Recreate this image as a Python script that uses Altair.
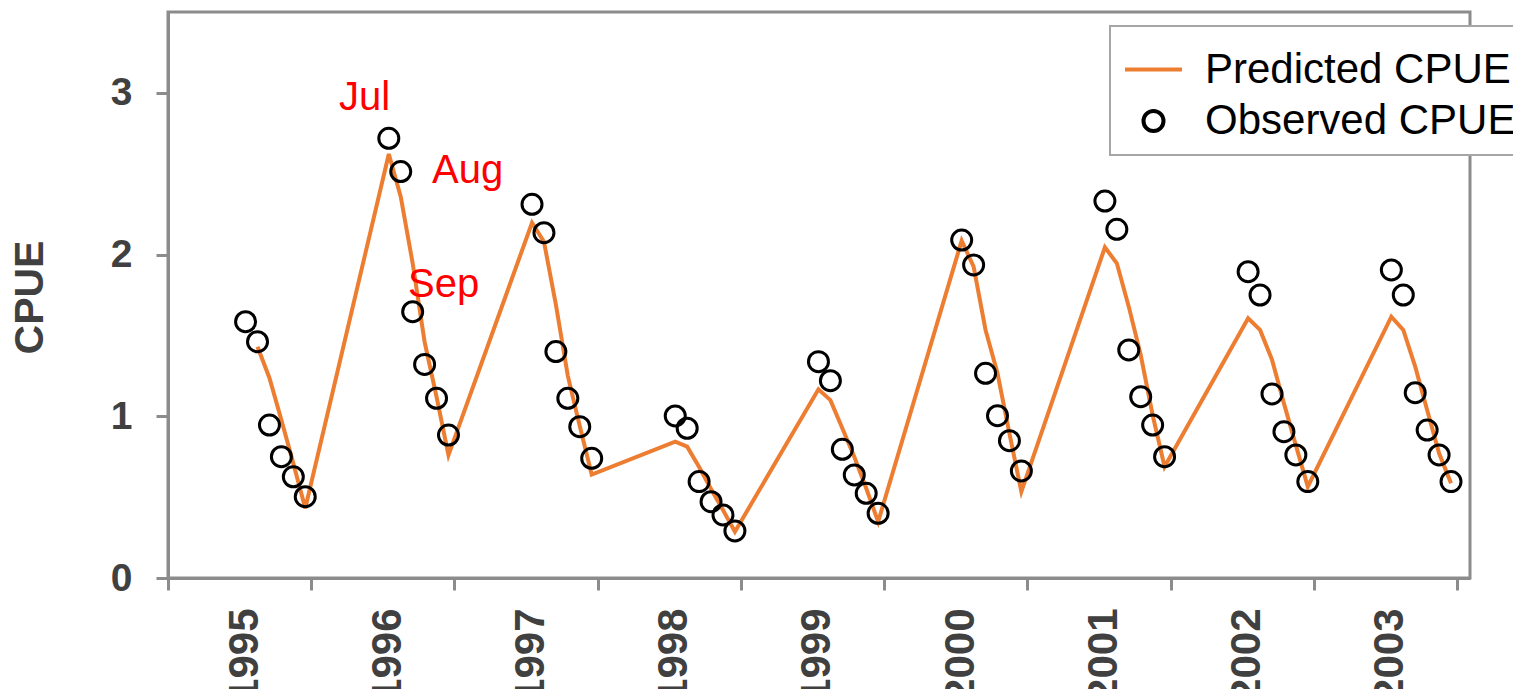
import altair as alt
import pandas as pd

# ---------------- data ----------------
years = [1995, 1996, 1997, 1998, 1999, 2000, 2001, 2002, 2003]
month_names = ["Jul", "Aug", "Sep", "Oct", "Nov", "Dec"]
month_index = [6, 7, 8, 9, 10, 11]  # 0 = Jan

obs_1995 = [1.585, 1.461, 0.946, 0.750, 0.626, 0.503]
obs_1996 = [2.719, 2.513, 1.647, 1.321, 1.111, 0.884]
obs_1997 = [2.311, 2.135, 1.400, 1.111, 0.936, 0.740]
obs_1998 = [1.002, 0.926, 0.596, 0.472, 0.390, 0.291]
obs_1999 = [1.338, 1.220, 0.796, 0.637, 0.524, 0.400]
obs_2000 = [2.090, 1.936, 1.266, 1.004, 0.849, 0.662]
obs_2001 = [2.331, 2.156, 1.410, 1.121, 0.946, 0.750]
obs_2002 = [1.894, 1.750, 1.138, 0.905, 0.761, 0.596]
obs_2003 = [1.905, 1.750, 1.146, 0.915, 0.761, 0.596]

pred_1995 = [None, 1.430, 1.237, 0.977, 0.709, 0.431]
pred_1996 = [2.622, 2.358, 1.946, 1.460, 1.121, 0.760]
pred_1997 = [2.197, 2.080, 1.690, 1.250, 0.940, 0.640]
pred_1998 = [0.843, 0.812, 0.686, 0.550, 0.420, 0.286]
pred_1999 = [1.167, 1.100, 0.926, 0.750, 0.555, 0.348]
pred_2000 = [2.086, 1.925, 1.534, 1.266, 0.895, 0.534]
pred_2001 = [2.045, 1.946, 1.678, 1.379, 1.008, 0.688]
pred_2002 = [1.606, 1.534, 1.350, 1.080, 0.820, 0.565]
pred_2003 = [1.616, 1.534, 1.307, 1.039, 0.771, 0.586]

observed = [obs_1995, obs_1996, obs_1997, obs_1998, obs_1999,
            obs_2000, obs_2001, obs_2002, obs_2003]
predicted = [pred_1995, pred_1996, pred_1997, pred_1998, pred_1999,
             pred_2000, pred_2001, pred_2002, pred_2003]

# month annotations (position in months since Jan 1995, CPUE units)
note_text = ["Jul", "Aug", "Sep"]
note_t = [14.33, 22.12, 20.11]
note_v = [2.894, 2.443, 1.738]

series_names = ["Predicted CPUE", "Observed CPUE"]

# ---------------- tables ----------------
obs_rows, pred_rows = [], []
for yi, yr in enumerate(years):
    for mi, m in enumerate(month_index):
        t = (yr - 1995) * 12 + m + 0.5
        obs_rows.append({"t": t, "v": observed[yi][mi], "series": "Observed CPUE"})
        if predicted[yi][mi] is not None:
            pred_rows.append({"t": t, "v": predicted[yi][mi], "series": "Predicted CPUE"})
obs_df = pd.DataFrame(obs_rows)
pred_df = pd.DataFrame(pred_rows)
note_df = pd.DataFrame({"t": note_t, "v": note_v, "label": note_text})

FONT = "Liberation Sans"
GRAY = "#8c8c8c"
LABEL = "#404040"

x_enc = alt.X(
    "t:Q",
    scale=alt.Scale(domain=[0, 109.09], nice=False, zero=False),
    axis=alt.Axis(
        values=list(range(0, 109, 12)),
        labelExpr="datum.value < 108 ? toString(1995 + datum.value / 12) : ''",
        labelAngle=270,
        labelOffset=76,
        labelPadding=18,
        labelFontSize=42,
        labelFontWeight="bold",
        labelColor=LABEL,
        labelFont=FONT,
        labelOverlap=False,
        labelFlush=False,
        tickSize=12,
        tickWidth=3,
        tickColor=GRAY,
        domainColor=GRAY,
        domainWidth=3,
        grid=False,
        title=None,
    ),
)
y_enc = alt.Y(
    "v:Q",
    scale=alt.Scale(domain=[0, 3.5], nice=False, zero=True),
    axis=alt.Axis(
        values=[0, 1, 2, 3],
        format="d",
        labelPadding=24,
        labelFontSize=39,
        labelFontWeight="bold",
        labelColor=LABEL,
        labelFont=FONT,
        tickSize=12,
        tickWidth=3,
        tickColor=GRAY,
        domainColor=GRAY,
        domainWidth=3,
        grid=False,
        title="CPUE",
        titleFont=FONT,
        titleFontSize=41,
        titleFontWeight="bold",
        titleColor=LABEL,
        titleAngle=270,
        titleAlign="center",
        titleBaseline="middle",
        titleX=-138,
        titleY=285,
    ),
)

legend = alt.Legend(
    title=None,
    orient="none",
    legendX=942,
    legendY=14,
    fillColor="white",
    strokeColor="#a6a6a6",
    padding=13,
    labelFont=FONT,
    labelFontSize=42,
    labelColor="black",
    labelLimit=0,
    labelOffset=21,
    symbolStrokeWidth=4,
    rowPadding=9,
)

stroke_scale = alt.Scale(domain=series_names, range=["#ed7d31", "black"])
shape_scale = alt.Scale(domain=series_names, range=["stroke", "circle"])
size_scale = alt.Scale(type="point", padding=0, domain=series_names, range=[3249, 400])

line = alt.Chart(pred_df).mark_line(strokeWidth=4).encode(
    x=x_enc,
    y=y_enc,
    stroke=alt.Stroke("series:N", scale=stroke_scale, legend=legend),
)

points = alt.Chart(obs_df).mark_point(filled=False, strokeWidth=3, opacity=1).encode(
    x=x_enc,
    y=y_enc,
    stroke=alt.Stroke("series:N", scale=stroke_scale, legend=legend),
    shape=alt.Shape("series:N", scale=shape_scale, legend=legend),
    size=alt.Size("series:N", scale=size_scale, legend=legend),
)

notes = alt.Chart(note_df).mark_text(
    align="left", baseline="alphabetic", fontSize=40, color="#ff0000", font=FONT
).encode(x="t:Q", y="v:Q", text="label:N")

chart = (
    alt.layer(line, points, notes)
    .properties(
        width=1302,
        height=566,
        padding={"left": 160, "top": 4, "right": 43, "bottom": 111},
        autosize=alt.AutoSizeParams(type="none"),
        background="white",
    )
    .configure_view(stroke=GRAY, strokeWidth=3)
    .configure_legend(strokeWidth=2)
)

chart.save("out.html", embed_options={"renderer": "svg", "actions": False})
